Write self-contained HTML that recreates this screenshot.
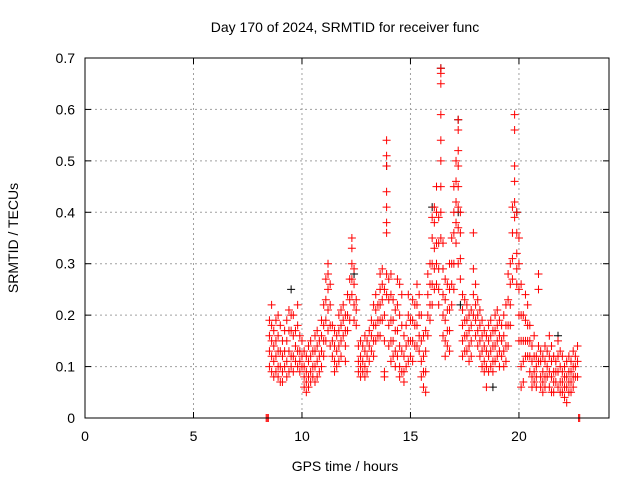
<!DOCTYPE html>
<html><head><meta charset="utf-8"><style>
body{margin:0;background:#fff;}
svg{display:block;font-family:"Liberation Sans",sans-serif;}
</style></head><body>
<svg id="chart" width="640" height="480" xmlns="http://www.w3.org/2000/svg">
<text x="345" y="32" font-size="14" text-anchor="middle">Day 170 of 2024, SRMTID for receiver func</text>
<text transform="translate(18,238) rotate(-90)" font-size="14" text-anchor="middle">SRMTID / TECUs</text>
<text x="345" y="471" font-size="14" text-anchor="middle">GPS time / hours</text>
<g id="grid"></g>
<g id="axes"></g>
<g id="black-series"></g>
<g id="red-series"></g>
<rect x="85" y="58" width="524" height="360" fill="none" stroke="#000" stroke-width="1"/>
</svg>
<script>
const xTicks=[0,5,10,15,20];
const yTicks=[0,0.1,0.2,0.3,0.4,0.5,0.6,0.7];
const yTickLabels=["0","0.1","0.2","0.3","0.4","0.5","0.6","0.7"];
const hours=[8.5,8.6,8.7,8.8,8.9,9.0,9.1,9.2,9.3,9.4,9.5,9.6,9.7,9.8,9.9,10.0,10.1,10.2,10.3,10.4,10.5,10.6,10.7,10.8,10.9,11.0,11.1,11.2,11.3,11.4,11.5,11.6,11.7,11.8,11.9,12.0,12.1,12.2,12.3,12.4,12.5,12.6,12.7,12.8,12.9,13.0,13.1,13.2,13.3,13.4,13.5,13.6,13.7,13.8,13.9,14.0,14.1,14.2,14.3,14.4,14.5,14.6,14.7,14.8,14.9,15.0,15.1,15.2,15.3,15.4,15.5,15.6,15.7,15.8,15.9,16.0,16.1,16.2,16.3,16.4,16.5,16.6,16.7,16.8,16.9,17.0,17.1,17.2,17.3,17.4,17.5,17.6,17.7,17.8,17.9,18.0,18.1,18.2,18.3,18.4,18.5,18.6,18.7,18.8,18.9,19.0,19.1,19.2,19.3,19.4,19.5,19.6,19.7,19.8,19.9,20.0,20.1,20.2,20.3,20.4,20.5,20.6,20.7,20.8,20.9,21.0,21.1,21.2,21.3,21.4,21.5,21.6,21.7,21.8,21.9,22.0,22.1,22.2,22.3,22.4,22.5,22.6,22.7];
const redValues=[
[.19,.16,.13,.10],[.22,.18,.15,.12,.09],[.17,.14,.11,.08],[.19,.15,.12,.09],[.20,.16,.13,.10,.08],
[.18,.13,.10,.07],[.15,.12,.09,.07],[.17,.13,.10],[.19,.15,.11,.08],[.21,.17,.13,.09],
[.20,.17,.12,.10],[.20,.16,.12,.09],[.17,.14,.11],[.22,.18,.13,.10],[.16,.13,.11,.09],
[.15,.12,.10],[.13,.10,.08,.06],[.12,.09,.07,.05],[.14,.11,.08,.06],[.15,.12,.09,.07],
[.13,.10,.08],[.16,.13,.10,.07],[.17,.14,.11,.08],[.15,.12,.09],[.19,.16,.13,.10],
[.22,.18,.15,.12],[.27,.23,.19,.15],[.30,.28,.25,.21,.17],[.26,.22,.18,.14],[.18,.15,.12],
[.17,.14,.11,.09],[.16,.13,.10],[.20,.17,.14,.11],[.21,.18,.15,.12],[.22,.19,.16],
[.20,.17,.14,.11],[.24,.20,.17],[.27,.23,.19],[.35,.33,.30,.27,.24],[.29,.26,.22,.19],
[.23,.21,.18],[.14,.11,.09],[.15,.12,.10,.08],[.14,.11,.09],[.16,.13,.10,.08],
[.15,.12,.09],[.17,.14,.11],[.19,.16,.13],[.22,.18,.15,.12],[.24,.21,.18,.15],
[.22,.19,.16],[.28,.25,.22,.19,.16],[.29,.26,.23,.19],[.25,.20,.15,.09,.08],[.54,.51,.49,.44,.41,.38,.36,.28,.24],
[.27,.23,.18,.14],[.28,.24,.19,.15,.11],[.23,.19,.15,.12],[.21,.17,.13,.10],[.27,.22,.17,.12],
[.26,.20,.14,.10,.08],[.24,.18,.13,.09],[.16,.12,.09,.07],[.18,.14,.10],[.24,.20,.15,.11],
[.19,.15,.12],[.23,.19,.15,.11],[.22,.18,.14],[.26,.22,.18,.14],[.24,.20,.16,.13],
[.20,.15,.11,.08],[.16,.12,.09,.06],[.17,.13,.09,.05],[.28,.24,.20,.16],[.30,.26,.22,.19],
[.39,.35,.30,.26,.22],[.41,.38,.33,.29,.25],[.45,.40,.34,.30,.26],[.39,.34,.29,.25,.22],[.68,.67,.65,.59,.54,.50,.45,.40,.35],
[.34,.29,.24,.20,.16],[.27,.23,.19,.15,.12],[.26,.21,.17,.14],[.30,.25,.21,.17,.13],[.35,.30,.26,.22],
[.45,.40,.36,.30,.25],[.50,.46,.42,.38,.34],[.58,.56,.52,.49,.45,.41,.37,.30],[.40,.36,.31,.27],[.24,.21,.18,.15,.12],
[.23,.19,.16,.13],[.22,.19,.16,.13],[.20,.17,.14,.11],[.21,.18,.15,.12],[.36,.29,.24,.20],
[.26,.22,.19,.16],[.23,.20,.17,.14],[.21,.18,.15,.12],[.19,.16,.13,.10],[.17,.14,.11,.09],
[.16,.13,.10,.06],[.18,.15,.12,.09],[.19,.16,.13,.10],[.17,.14,.11,.09],[.20,.17,.14,.11],
[.21,.18,.15,.12],[.19,.16,.13,.10],[.18,.15,.12],[.20,.16,.13,.10],[.22,.18,.14,.11],
[.28,.23,.18,.14],[.30,.26,.22,.18],[.41,.36,.31,.27],[.59,.56,.49,.46,.42,.39],[.40,.36,.32,.29,.26],
[.35,.30,.25,.20,.15],[.26,.20,.15,.10,.06],[.20,.15,.11,.07],[.24,.19,.15,.12],[.22,.18,.15,.12],
[.18,.15,.12,.09],[.14,.11,.08,.06],[.16,.12,.09,.07],[.12,.10,.08,.06],[.28,.25,.14,.11],
[.13,.11,.08,.06],[.12,.09,.07,.05],[.14,.11,.08,.06],[.13,.10,.08],[.16,.12,.09,.06],
[.14,.11,.08,.05],[.12,.09,.07,.05],[.11,.09,.07],[.15,.12,.09,.06],[.13,.10,.07,.05],
[.12,.09,.07,.05],[.10,.08,.06,.04],[.11,.08,.06,.03],[.12,.09,.07,.05],[.11,.09,.07,.05],
[.13,.10,.08,.06],[.12,.10,.08],[.14,.11,.08]];
const zeroHours=[8.35,8.4,8.45,22.75,22.8];
const blackHours=[9.5,12.4,13.9,16.0,16.4,17.2,17.2,17.3,18.8,19.9,21.8];
const blackValues=[0.25,0.28,0.49,0.41,0.68,0.58,0.40,0.22,0.06,0.40,0.16];

const X0=85,X1=609,Y0=418,Y1=58,XMAX=24.15,YMAX=0.7;
const xs=t=>X0+(X1-X0)*t/XMAX;
const ys=v=>Y0-(Y0-Y1)*v/YMAX;
const NS="http://www.w3.org/2000/svg";
function mk(tag,parent,attrs){const e=document.createElementNS(NS,tag);for(const k in attrs)e.setAttribute(k,attrs[k]);parent.appendChild(e);return e;}
const grid=document.getElementById('grid'),axes=document.getElementById('axes');
xTicks.forEach(t=>{const x=xs(t);
 if(t>0){const g=mk('line',grid,{x1:x,x2:x,y1:Y1,y2:Y0,stroke:'#a0a0a0','stroke-dasharray':'2,3'});}
 const a=mk('line',axes,{x1:x,x2:x,y1:Y0,y2:Y0-6,stroke:'#000'});
 const b=mk('line',axes,{x1:x,x2:x,y1:Y1,y2:Y1+6,stroke:'#000'});
 const l=mk('text',axes,{x:x,y:Y0+23,'font-size':14,'text-anchor':'middle'});l.textContent=String(t);});
yTicks.forEach((v,i)=>{const y=ys(v);
 if(v>0&&v<YMAX){const g=mk('line',grid,{x1:X0,x2:X1,y1:y,y2:y,stroke:'#a0a0a0','stroke-dasharray':'2,3'});}
 const a=mk('line',axes,{x1:X0,x2:X0+6,y1:y,y2:y,stroke:'#000'});
 const b=mk('line',axes,{x1:X1-6,x2:X1,y1:y,y2:y,stroke:'#000'});
 const l=mk('text',axes,{x:X0-10,y:y+5,'font-size':14,'text-anchor':'end'});l.textContent=yTickLabels[i];});
function plus(parent,t,v,color,name){const x=xs(t),y=ys(v);
 const p=mk('path',parent,{d:`M${x-4} ${y}H${x+4}M${x} ${y-4}V${y+4}`,stroke:color,'stroke-width':1,fill:'none'});
 
 }
const bg=document.getElementById('black-series'),rg=document.getElementById('red-series');
blackHours.forEach((t,i)=>plus(bg,t,blackValues[i],'#000','black-point'));
hours.forEach((t,i)=>redValues[i].forEach(v=>plus(rg,t,v,'#ff0000','red-point')));
zeroHours.forEach(t=>plus(rg,t,0,'#ff0000','red-zero-point'));
</script>
</body></html>
